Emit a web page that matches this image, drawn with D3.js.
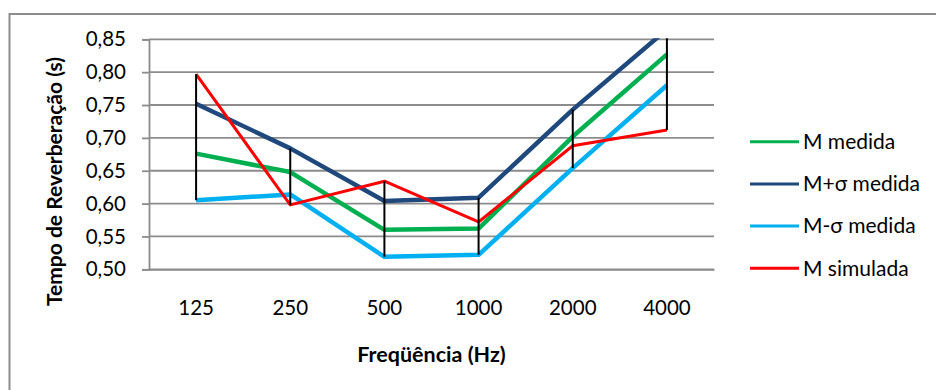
<!DOCTYPE html>
<html>
<head>
<meta charset="utf-8">
<script src="https://cdn.jsdelivr.net/npm/d3@7"></script>
<style>
  body { margin: 0; background: #fff; }
  svg { display: block; font-family: Lato, "Open Sans", sans-serif; }
</style>
</head>
<body>
<svg id="chart" width="936" height="390"></svg>
<script>
var categories = ['125', '250', '500', '1000', '2000', '4000'];
var mMedida = [0.676, 0.648, 0.560, 0.562, 0.702, 0.827];
var mMaisSigma = [0.752, 0.684, 0.604, 0.609, 0.743, 0.865];
var mMenosSigma = [0.605, 0.614, 0.519, 0.522, 0.654, 0.780];
var mSimulada = [0.797, 0.598, 0.634, 0.572, 0.688, 0.712];
var yTicks = [0.50, 0.55, 0.60, 0.65, 0.70, 0.75, 0.80, 0.85];

var series = [
    { name: 'M medida', values: mMedida, color: '#00b050', width: 4.5 },
    { name: 'M+σ medida', values: mMaisSigma, color: '#1f497d', width: 4.5 },
    { name: 'M-σ medida', values: mMenosSigma, color: '#00b0f0', width: 4.5 },
    { name: 'M simulada', values: mSimulada, color: '#ff0000', width: 3 }
];

var svg = d3.select('#chart');
var plot = { left: 149, right: 714, top: 39.3, bottom: 269.3 };

// outer chart frame (only top and left edges are visible in the crop)
svg.append('path')
    .attr('d', 'M9.5,400V14H940')
    .style('fill', 'none')
    .style('stroke', '#8c8c8c')
    .style('stroke-width', 2);

var x = d3.scaleBand().domain(categories).range([plot.left, plot.right]);
var y = d3.scaleLinear().domain([0.5, 0.85]).range([plot.bottom, plot.top]);
var fmt = function(d) { return d3.format('.2f')(d).replace('.', ','); };

svg.append('defs').append('clipPath').attr('id', 'clip')
    .append('rect')
    .attr('x', plot.left).attr('y', plot.top - 1)
    .attr('width', plot.right - plot.left)
    .attr('height', plot.bottom - plot.top + 2);

// gridlines
svg.append('g').selectAll('line')
    .data(yTicks).enter().append('line')
    .attr('x1', plot.left).attr('x2', plot.right)
    .attr('y1', function(d) { return y(d); })
    .attr('y2', function(d) { return y(d); })
    .style('stroke', '#8c8c8c')
    .style('stroke-width', 1.8);

// y axis
var yAxis = svg.append('g')
    .attr('transform', 'translate(' + plot.left + ',0)')
    .call(d3.axisLeft(y).tickValues(yTicks).tickFormat(fmt).tickSize(7).tickPadding(16));
yAxis.selectAll('path.domain, line').style('stroke', '#8c8c8c').style('stroke-width', 1.8);
yAxis.selectAll('text')
    .style('font-family', 'Lato, sans-serif')
    .style('font-size', '20.5px')
    .style('fill', '#000');

// x axis
var xAxis = svg.append('g')
    .attr('transform', 'translate(0,' + plot.bottom + ')')
    .call(d3.axisBottom(x).tickSize(0).tickPadding(31));
xAxis.select('path.domain').style('stroke', '#8c8c8c').style('stroke-width', 1.8);
xAxis.selectAll('text')
    .style('font-family', 'Lato, sans-serif')
    .style('font-size', '20.5px')
    .style('fill', '#000');

var cx = function(i) { return x(categories[i]) + x.bandwidth() / 2; };
var line = d3.line()
    .x(function(d, i) { return cx(i); })
    .y(function(d) { return y(d); });

var lines = svg.append('g').attr('clip-path', 'url(#clip)');
lines.selectAll('path')
    .data(series).enter().append('path')
    .attr('d', function(d) { return line(d.values); })
    .style('fill', 'none')
    .style('stroke', function(d) { return d.color; })
    .style('stroke-width', function(d) { return d.width; })
    .style('stroke-linejoin', 'round');

// high-low lines
var hiLo = categories.map(function(c, i) {
    var vals = series.map(function(s) { return s.values[i]; });
    return { i: i, hi: d3.max(vals), lo: d3.min(vals) };
});
lines.append('g').selectAll('line')
    .data(hiLo).enter().append('line')
    .attr('x1', function(d) { return cx(d.i); })
    .attr('x2', function(d) { return cx(d.i); })
    .attr('y1', function(d) { return y(d.hi); })
    .attr('y2', function(d) { return y(d.lo); })
    .style('stroke', '#000')
    .style('stroke-width', 2);

// axis titles
svg.append('text')
    .attr('transform', 'translate(62,181.5) rotate(-90)')
    .attr('text-anchor', 'middle')
    .style('font-weight', 'bold')
    .style('font-size', '21px')
    .text('Tempo de Reverberação  (s)');
svg.append('text')
    .attr('x', (plot.left + plot.right) / 2)
    .attr('y', 362)
    .attr('text-anchor', 'middle')
    .style('font-weight', 'bold')
    .style('font-size', '21.5px')
    .text('Freqüência (Hz)');

// legend
var legend = svg.append('g').selectAll('g')
    .data(series).enter().append('g')
    .attr('transform', function(d, i) { return 'translate(750,' + (141.7 + i * 42.2) + ')'; });
legend.append('line')
    .attr('x1', 0).attr('x2', 49)
    .style('stroke', function(d) { return d.color; })
    .style('stroke-width', 3);
legend.append('text')
    .attr('x', 53).attr('y', 0)
    .attr('dy', '0.35em')
    .style('font-size', '21px')
    .text(function(d) { return d.name; });
</script>
</body>
</html>
